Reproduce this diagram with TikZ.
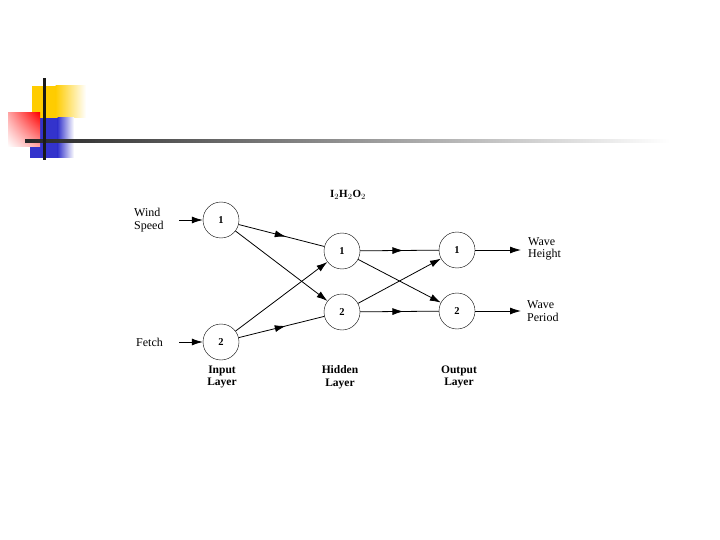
\documentclass[tikz,border=0pt]{standalone}
\usepackage{fontspec}
\setmainfont{Liberation Serif}
\usetikzlibrary{arrows.meta,decorations.markings,shadings}
\definecolor{dyel}{RGB}{255,204,0}
\definecolor{dblu}{RGB}{51,51,204}
\begin{document}
\begin{tikzpicture}[x=1pt,y=-1pt,
  neuron/.style={draw,circle,minimum size=36pt,inner sep=0pt,font=\bfseries\fontsize{10.5}{12}\selectfont},
  tip/.style={-{Latex[length=11pt,width=7pt]}},
  midtip/.style={postaction={decorate},decoration={markings,mark=at position 0.55 with {\arrow{Latex[length=11pt,width=7pt]}}}},
  lbl/.style={font=\fontsize{12}{12.5}\selectfont,align=left,inner sep=0pt},
  layer/.style={font=\bfseries\fontsize{11.5}{12.5}\selectfont,align=center,inner sep=0pt},
  conn/.style={line width=0.8pt}]
\useasboundingbox (0,0) rectangle (720,540);
% decoration
\fill[dyel] (32,86) rectangle (56,118);
\shade[left color=dyel,right color=white] (55.5,86) rectangle (86,118);
\fill[dblu] (30,118) rectangle (58,158);
\shade[left color=dblu,right color=white] (57.5,118) rectangle (74,158);
\shade[upper right=red, upper left=red!35, lower right=red!35, lower left=white] (8,113) rectangle (40,147);
\shade[left color=black!85,right color=white] (25,140) rectangle (670,142.5);
\fill[black!90] (43,78) rectangle (46,160);
% nodes
\node[neuron] (i1) at (221,220) {1};
\node[neuron] (i2) at (221,342) {2};
\node[neuron] (h1) at (342,251) {1};
\node[neuron] (h2) at (342,312) {2};
\node[neuron] (o1) at (457,250) {1};
\node[neuron] (o2) at (457,311) {2};
% labels
\node[lbl,anchor=west] (ws) at (134,220) {Wind\\Speed};
\node[lbl,anchor=west] (fe) at (136,342) {Fetch};
\node[lbl,anchor=west] (wh) at (528,249) {Wave\\Height};
\node[lbl,anchor=west] (wp) at (527,311) {Wave\\Period};
\node[layer] (il) at (222,377) {Input\\Layer};
\node[layer] (hl) at (340,377) {Hidden\\Layer};
\node[layer] (ol) at (459,377) {Output\\Layer};
\node[font=\bfseries\fontsize{11}{12}\selectfont] (t) at (348,195) {I$_2$H$_2$O$_2$};
% connectors
\coordinate (a1) at (179,220);
\coordinate (a2) at (179,342);
\coordinate (b1) at (521,250);
\coordinate (b2) at (521,311);
\draw[conn,tip] (a1) -- (i1);
\draw[conn,tip] (a2) -- (i2);
\draw[conn,midtip] (i1) -- (h1);
\draw[conn,tip] (i1) -- (h2);
\draw[conn,tip] (i2) -- (h1);
\draw[conn,midtip] (i2) -- (h2);
\draw[conn,midtip] (h1) -- (o1);
\draw[conn,tip] (h1) -- (o2);
\draw[conn,tip] (h2) -- (o1);
\draw[conn,midtip] (h2) -- (o2);
\draw[conn,tip] (o1) -- (b1);
\draw[conn,tip] (o2) -- (b2);
\end{tikzpicture}
\end{document}
